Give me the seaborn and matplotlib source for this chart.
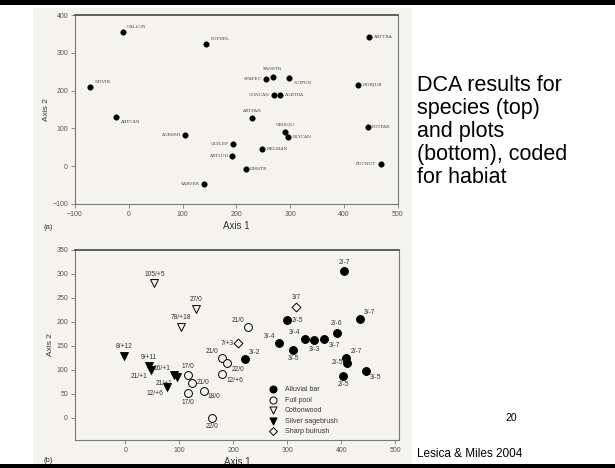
#! /usr/bin/env python3

import pandas as pd
import matplotlib
matplotlib.use('Agg')
import matplotlib.pyplot as plt
import seaborn as sns
from matplotlib.patches import Rectangle

# (a) species scores
species = ['CALLON', 'STIVIR', 'ARTCAN', 'POPDEL', 'ARTTRA', 'SPAPEC', 'XANSTR',
           'SCIPUN', 'HORJUB', 'CONCAN', 'AGRTRA', 'ARTFAN', 'POTPAR', 'GRISQU',
           'ELYCAN', 'GLYLEP', 'ARTLUD', 'HELMAN', 'DISSTR', 'PUCNUT', 'AGRSMI', 'SARVER']
sp_axis1 = [-11, -72, -24, 144, 446, 254, 267, 298, 426, 270, 281, 228, 444, 291,
            296, 193, 192, 248, 217, 468, 104, 139]
sp_axis2 = [355, 210, 130, 324, 342, 231, 236, 234, 215, 188, 188, 127, 103, 90,
            78, 58, 27, 45, -8, 5, 82, -48]

# (b) plot scores
plot_labels = ['105/+5', '27/0', '78/+18',
               '8/+12', '9/+11', '21/+1', '16/+1', '21/+1', '12/+6',
               '17/0', '21/0', '17/0', '18/0', '22/0', '21/0', '22/0', '12/+6', '21/0',
               '7/+3', '3/7',
               '2/-7', '2/-5', '3/-7', '2/-6', '3/-4', '3/-4', '3/-3', '3/-7', '3/-5',
               '3/-2', '2/-7', '2/-5', '2/-5', '3/-5']
plot_axis1 = [54, 131, 104,
              -2, 44, 48, 91, 96, 78,
              117, 124, 117, 145, 161, 180, 189, 180, 228,
              208, 317,
              406, 300, 435, 392, 285, 332, 350, 369, 311, 221, 409, 411, 404, 446]
plot_axis2 = [281, 227, 190,
              129, 108, 100, 90, 85, 65,
              89, 73, 52, 57, 0, 125, 114, 91, 190,
              156, 232,
              306, 204, 206, 177, 156, 165, 162, 165, 142, 123, 125, 115, 88, 98]
habitat = ['Cottonwood'] * 3 + ['Silver sagebrush'] * 6 + ['Full pool'] * 9 + \
          ['Sharp bulrush'] * 2 + ['Alluvial bar'] * 14

# where each text label sits relative to its marker
sp_place = ['ne', 'ne', 'se', 'ne', 'e', 'w', 'n', 'se', 'e', 'w', 'e', 'n', 'e', 'n',
            'e', 'w', 'w', 'e', 'e', 'w', 'w', 'w']
plot_place = ['n', 'n', 'n',
              'n', 'n', 'sw', 'nw', 'sw', 'sw',
              'n', 'e', 's', 'se', 's', 'nw', 'se', 'se', 'nw',
              'w', 'n',
              'n', 'e', 'ne', 'n', 'nw', 'nw', 's', 'se', 's', 'ne', 'ne', 'w', 's', 'se']

offsets = {'n': (0, 4, 'center', 'bottom'), 's': (0, -4, 'center', 'top'),
           'e': (3, 0, 'left', 'center'), 'w': (-3, 0, 'right', 'center'),
           'ne': (3, 2, 'left', 'bottom'), 'nw': (-3, 2, 'right', 'bottom'),
           'se': (3, -2, 'left', 'top'), 'sw': (-3, -2, 'right', 'top')}

bg = '#f5f3ed'
grey = '#555555'

sns.set_theme(style='white')
plt.rcParams['font.family'] = ['Liberation Sans', 'DejaVu Sans']

fig = plt.figure(figsize=(6.15, 4.68), dpi=100)
fig.patch.set_facecolor('white')

# scanned figure panel and slide bars
fig.add_artist(Rectangle((33 / 615, 4 / 468), 379 / 615, 456 / 468, transform=fig.transFigure,
                         facecolor=bg, edgecolor='none', zorder=0))
fig.add_artist(Rectangle((0, 463 / 468), 1, 5 / 468, transform=fig.transFigure,
                         facecolor='black', edgecolor='none'))
fig.add_artist(Rectangle((0, 0), 1, 4 / 468, transform=fig.transFigure,
                         facecolor='black', edgecolor='none'))


def style_axes(ax):
    ax.set_facecolor(bg)
    for s in ax.spines.values():
        s.set_color('#777777')
        s.set_linewidth(0.8)
    ax.spines['top'].set_color('#444444')
    ax.spines['top'].set_linewidth(1.2)
    ax.tick_params(axis='both', which='major', length=3, width=0.6, color='#777777',
                   labelsize=5, labelcolor=grey, direction='out', bottom=True, left=True, pad=2)
    ax.set_xlabel('Axis 1', fontsize=7, color='#333333', labelpad=2)
    ax.set_ylabel('Axis 2', fontsize=6, color='#333333', labelpad=2)


# top: species
ax1 = fig.add_axes([75 / 615, 1 - 204 / 468, 323 / 615, 189 / 468])
sp_df = pd.DataFrame({'Axis 1': sp_axis1, 'Axis 2': sp_axis2, 'species': species})
sns.scatterplot(x='Axis 1', y='Axis 2', data=sp_df, ax=ax1, color='black', s=16,
                edgecolor='black', linewidth=0.3, zorder=3)
for name, x, y, p in zip(species, sp_axis1, sp_axis2, sp_place):
    dx, dy, ha, va = offsets[p]
    ax1.annotate(name, (x, y), xytext=(dx, dy), textcoords='offset points', ha=ha, va=va,
                 fontsize=3.2, family='DejaVu Serif', color='#444444')
ax1.set_xlim(-100, 500)
ax1.set_ylim(-100, 400)
ax1.set_xticks([-100, 0, 100, 200, 300, 400, 500])
ax1.set_yticks([-100, 0, 100, 200, 300, 400])
style_axes(ax1)
fig.text(43 / 615, 1 - 227 / 468, '(a)', fontsize=5.5, color='#333333', va='center')

# bottom: plots
ax2 = fig.add_axes([75 / 615, 1 - 440 / 468, 324 / 615, 190 / 468])
pl_df = pd.DataFrame({'Axis 1': plot_axis1, 'Axis 2': plot_axis2, 'habitat': habitat})
hab_styles = {'Alluvial bar': ('o', 'black', 32),
              'Full pool': ('o', bg, 32),
              'Cottonwood': ('v', bg, 32),
              'Silver sagebrush': ('v', 'black', 32),
              'Sharp bulrush': ('D', bg, 20)}
for hab, (mk, fc, sz) in hab_styles.items():
    sub = pl_df[pl_df.habitat == hab]
    sns.scatterplot(x='Axis 1', y='Axis 2', data=sub, ax=ax2, marker=mk, color=fc,
                    edgecolor='black', linewidth=0.7, s=sz, label=hab, zorder=3)
for lab, x, y, p in zip(plot_labels, plot_axis1, plot_axis2, plot_place):
    dx, dy, ha, va = offsets[p]
    ax2.annotate(lab, (x, y), xytext=(dx, dy), textcoords='offset points', ha=ha, va=va,
                 fontsize=4.8, color='#333333')
ax2.set_xlim(-93, 507)
ax2.set_ylim(-46, 350)
ax2.set_xticks([0, 100, 200, 300, 400, 500])
ax2.set_yticks([0, 50, 100, 150, 200, 250, 300, 350])
style_axes(ax2)
leg = ax2.legend(loc='lower left', bbox_to_anchor=(0.575, 0.0), frameon=False, fontsize=5,
                 handletextpad=0.7, labelspacing=0.5, borderpad=0.2, markerscale=0.9)
for t in leg.get_texts():
    t.set_color('#333333')
fig.text(43 / 615, 1 - 461 / 468, '(b)', fontsize=5.5, color='#333333', va='center')

# slide text
fig.text(417 / 615, 1 - 75 / 468,
         'DCA results for\nspecies (top)\nand plots\n(bottom), coded\nfor habiat',
         fontsize=15.5, color='black', va='top', ha='left', linespacing=1.12)
fig.text(517 / 615, 1 - 418 / 468, '20', fontsize=7.5, color='black', ha='right', va='center')
fig.text(417 / 615, 1 - 454 / 468, 'Lesica & Miles 2004', fontsize=8.5, color='black',
         ha='left', va='center')

plt.savefig('out.png', dpi=100)
